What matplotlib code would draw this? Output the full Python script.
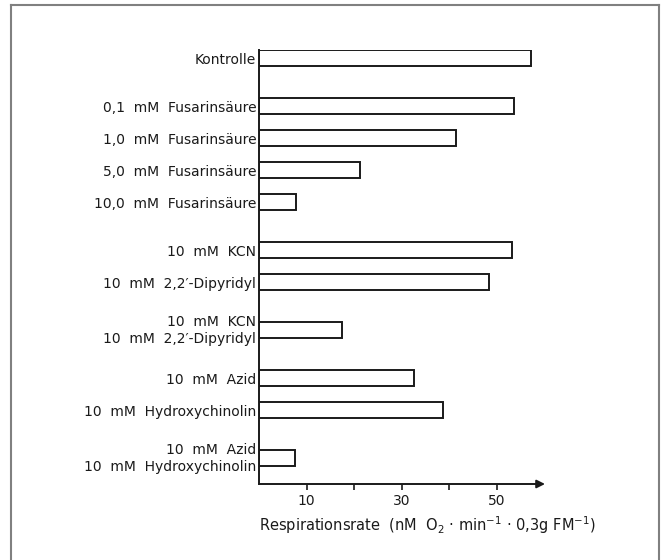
import matplotlib.pyplot as plt
from matplotlib.lines import Line2D

labels = ["Kontrolle",
          "0,1  mM  Fusarinsäure",
          "1,0  mM  Fusarinsäure",
          "5,0  mM  Fusarinsäure",
          "10,0  mM  Fusarinsäure",
          "10  mM  KCN",
          "10  mM  2,2′-Dipyridyl",
          "10  mM  KCN\n10  mM  2,2′-Dipyridyl",
          "10  mM  Azid",
          "10  mM  Hydroxychinolin",
          "10  mM  Azid\n10  mM  Hydroxychinolin"]
rates = [57.3, 53.7, 41.5, 21.3, 7.8, 53.2, 48.4, 17.4, 32.6, 38.8, 7.6]
# vertical slots (gaps between the groups)
slots = [0, 1.5, 2.5, 3.5, 4.5, 6, 7, 8.5, 10, 11, 12.5]

ink = "#1a1a1a"
plt.rcParams['font.family'] = ['DejaVu Sans']

fig = plt.figure(figsize=(6.67, 5.6), dpi=100)
W, H = 667, 560
x0, x1, ytop, ybot = 259, 545, 50, 484
ax = fig.add_axes([x0 / W, (H - ybot) / H, (x1 - x0) / W, (ybot - ytop) / H])

ax.barh(slots, rates, height=0.5, left=0, color="white", edgecolor=ink, linewidth=1.4)

ax.set_xlim(0, 60.2)
ax.set_ylim(13.3, -0.25)
ax.set_yticks(slots, labels, fontsize=10, color=ink)
for t in ax.get_yticklabels():
    if "\n" in t.get_text():
        t.set_linespacing(1.3)
        t.set_verticalalignment("center")
ax.tick_params(axis="y", length=0, pad=2)
ax.set_xticks([10, 30, 50], ["10", "30", "50"], fontsize=10, color=ink)
ax.set_xticks([20, 40], minor=True)
ax.tick_params(axis="x", which="both", length=4, width=1.2, color=ink, pad=3)

for s in ["top", "right", "bottom"]:
    ax.spines[s].set_visible(False)
ax.spines["left"].set_linewidth(1.4)
ax.spines["left"].set_color(ink)
ax.annotate("", xy=(1, 0), xytext=(0, 0), xycoords="axes fraction",
            arrowprops=dict(arrowstyle="-|>", lw=1.4, color=ink, shrinkA=0, shrinkB=0,
                            mutation_scale=12))

ax.set_xlabel("Respirationsrate  (nM  O$_2$ · min$^{-1}$ · 0,3g FM$^{-1}$)",
              loc="left", fontsize=10.5, color=ink, labelpad=5)

# open frame around the figure
fc = "#808080"
fig.add_artist(Line2D([11 / W, 11 / W], [0, 1 - 5 / H], color=fc, lw=1.5))
fig.add_artist(Line2D([11 / W, 659 / W], [1 - 5 / H, 1 - 5 / H], color=fc, lw=1.5))
fig.add_artist(Line2D([659 / W, 659 / W], [0, 1 - 5 / H], color=fc, lw=1.5))

fig.savefig("out.png", dpi=100)
